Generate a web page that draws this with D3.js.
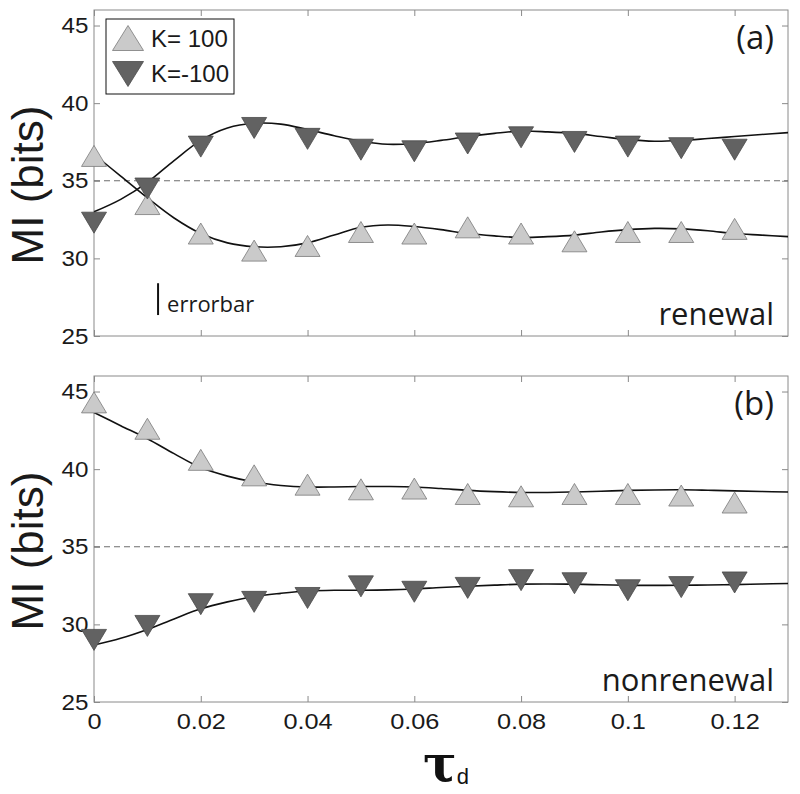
<!DOCTYPE html>
<html><head><meta charset="utf-8">
<script src="https://cdn.jsdelivr.net/npm/d3@7"></script>
<style>body{margin:0;background:#fff}</style>
</head><body>
<svg id="c" width="800" height="794"></svg>
<script>
// ---------- data ----------
const tauPoints = [0,0.01,0.02,0.03,0.04,0.05,0.06,0.07,0.08,0.09,0.10,0.11,0.12];
const renewalUp   = [36.6,33.5,31.6,30.5,30.8,31.7,31.6,32.0,31.6,31.1,31.7,31.7,31.9];
const renewalDown = [32.3,34.5,37.2,38.4,37.7,37.0,36.9,37.4,37.8,37.5,37.2,37.1,37.0];
const nonrenewalUp   = [44.3,42.6,40.6,39.6,39.0,38.7,38.75,38.4,38.25,38.4,38.4,38.3,37.85];
const nonrenewalDown = [29.0,29.9,31.3,31.45,31.7,32.45,32.1,32.35,32.85,32.65,32.2,32.4,32.7];

const fitTau = [0,0.005,0.01,0.015,0.02,0.025,0.03,0.035,0.04,0.045,0.05,0.055,0.06,0.065,0.07,0.075,0.08,0.085,0.09,0.095,0.10,0.105,0.11,0.115,0.12,0.125,0.13];
const renewalUpFit   = [36.7,35.3,33.9,32.6,31.6,31.0,30.75,30.75,31.0,31.5,32.0,32.15,32.05,31.85,31.6,31.45,31.35,31.4,31.5,31.7,31.85,31.93,31.9,31.78,31.6,31.5,31.4];
const renewalDownFit = [33.0,33.8,34.9,36.3,37.6,38.4,38.7,38.65,38.3,37.9,37.55,37.35,37.4,37.6,37.85,38.05,38.2,38.15,38.05,37.85,37.65,37.55,37.6,37.72,37.85,37.98,38.1];
const nonrenewalUpFit   = [43.65,42.8,41.96,41.0,40.1,39.55,39.17,38.95,38.85,38.85,38.88,38.88,38.85,38.75,38.63,38.55,38.5,38.5,38.53,38.58,38.63,38.66,38.67,38.64,38.6,38.56,38.53];
const nonrenewalDownFit = [28.67,29.1,29.67,30.35,31.0,31.45,31.8,32.0,32.15,32.2,32.2,32.22,32.28,32.38,32.46,32.53,32.59,32.6,32.59,32.55,32.52,32.51,32.52,32.54,32.56,32.6,32.63];

const xTickValues = [0,0.02,0.04,0.06,0.08,0.10,0.12];
const xTickLabels = ["0","0.02","0.04","0.06","0.08","0.1","0.12"];
const yTickValues = [25,30,35,40,45];
const yTickLabels = ["25","30","35","40","45"];
const legendLabels = ["K= 100","K=-100"];
const panelLetters = ["(a)","(b)"];
const panelNames = ["renewal","nonrenewal"];
const referenceMI = 35;
const errorbarTau = 0.012;
const errorbarRange = [26.35, 28.4];

// ---------- layout ----------
const left = 94, right = 788;
const panels = [
  {top:10, bottom:336, up:renewalUp, down:renewalDown, upFit:renewalUpFit, downFit:renewalDownFit, letter:panelLetters[0], name:panelNames[0], showX:false},
  {top:376, bottom:702, up:nonrenewalUp, down:nonrenewalDown, upFit:nonrenewalUpFit, downFit:nonrenewalDownFit, letter:panelLetters[1], name:panelNames[1], showX:true}
];
const lightFill = "#cacaca", lightStroke = "#7a7a7a";
const darkFill = "#626262", darkStroke = "#4a4a4a";
const axisColor = "#8a8a8a";
const tickFont = "'Liberation Sans', Arial, Helvetica, sans-serif";
const textFont = "'Open Sans', 'Liberation Sans', sans-serif";

const svg = d3.select("#c");
const x = d3.scaleLinear().domain([0,0.13]).range([left,right]);

function tri(w,h,up){
  const p = d3.path();
  if(up){ p.moveTo(0,-h/2); p.lineTo(w/2,h/2); p.lineTo(-w/2,h/2); }
  else { p.moveTo(0,h/2); p.lineTo(w/2,-h/2); p.lineTo(-w/2,-h/2); }
  p.closePath();
  return p.toString();
}

panels.forEach((P,pi)=>{
  const y = d3.scaleLinear().domain([25,46]).range([P.bottom,P.top]);
  const g = svg.append("g");

  g.append("rect").attr("x",left).attr("y",P.top).attr("width",right-left).attr("height",P.bottom-P.top)
    .attr("fill","none").attr("stroke",axisColor).attr("stroke-width",1);

  const ax = g.append("g").attr("transform",`translate(${left},0)`)
    .call(d3.axisLeft(y).tickValues(yTickValues).tickFormat((d,i)=>yTickLabels[i]).tickSize(-6).tickPadding(5));
  const ar = g.append("g").attr("transform",`translate(${right},0)`)
    .call(d3.axisRight(y).tickValues(yTickValues).tickFormat("").tickSize(-6));
  const at = g.append("g").attr("transform",`translate(0,${P.top})`)
    .call(d3.axisTop(x).tickValues(xTickValues).tickFormat("").tickSize(-6));
  const ab = g.append("g").attr("transform",`translate(0,${P.bottom})`)
    .call(d3.axisBottom(x).tickValues(xTickValues).tickFormat((d,i)=>P.showX?xTickLabels[i]:"").tickSize(-6).tickPadding(11));
  [ax,ar,at,ab].forEach(a=>{
    a.select(".domain").remove();
    a.selectAll(".tick line").attr("stroke",axisColor);
    a.selectAll("text").attr("fill","#1a1a1a").style("font-family",tickFont).style("font-size","22px");
  });
  ax.selectAll(".tick text").attr("transform","scale(1.1,1)");
  ab.selectAll(".tick text").attr("transform","scale(1.15,1)");

  g.append("line").attr("x1",x(0)).attr("x2",x(0.13)).attr("y1",y(referenceMI)).attr("y2",y(referenceMI))
    .attr("stroke","#6e6e6e").attr("stroke-width",1.1).attr("stroke-dasharray","6,4");

  const line = d3.line().x((d,i)=>x(fitTau[i])).y(d=>y(d)).curve(d3.curveCatmullRom.alpha(0.5));
  [P.upFit,P.downFit].forEach(arr=>{
    g.append("path").attr("d",line(arr)).attr("fill","none").attr("stroke","#111").attr("stroke-width",1.6);
  });

  g.selectAll(".up").data(P.up).enter().append("path")
    .attr("transform",(d,i)=>`translate(${x(tauPoints[i])},${y(d)})`)
    .attr("d",tri(25,21,true)).attr("fill",lightFill).attr("stroke",lightStroke).attr("stroke-width",0.8);
  g.selectAll(".down").data(P.down).enter().append("path")
    .attr("transform",(d,i)=>`translate(${x(tauPoints[i])},${y(d)})`)
    .attr("d",tri(25,21,false)).attr("fill",darkFill).attr("stroke",darkStroke).attr("stroke-width",0.8);

  g.append("text").attr("x",774).attr("y",P.top+39).attr("text-anchor","end")
    .style("font-family",textFont).style("font-size","33px").attr("fill","#1a1a1a").text(P.letter);
  g.append("text").attr("x",774).attr("y",P.bottom-11).attr("text-anchor","end")
    .style("font-family",textFont).style("font-size","31px").attr("fill","#1a1a1a").text(P.name);

  const cy = (P.top+P.bottom)/2 + 12;
  g.append("text").attr("transform",`translate(43,${cy}) rotate(-90)`).attr("text-anchor","middle")
    .style("font-family",tickFont).style("font-size","44px").attr("fill","#1a1a1a").text("MI (bits)");

  if(pi===0){
    g.append("line").attr("x1",x(errorbarTau)).attr("x2",x(errorbarTau))
      .attr("y1",y(errorbarRange[0])).attr("y2",y(errorbarRange[1])).attr("stroke","#111").attr("stroke-width",2);
    g.append("text").attr("x",x(errorbarTau)+9).attr("y",y(errorbarRange[0])-3)
      .style("font-family",textFont).style("font-size","22px").attr("fill","#1a1a1a").text("errorbar");

    const lg = g.append("g");
    lg.append("rect").attr("x",106).attr("y",19).attr("width",128).attr("height",75)
      .attr("fill","#fff").attr("stroke","#111").attr("stroke-width",1);
    lg.append("path").attr("transform","translate(128,38)").attr("d",tri(31,25,true))
      .attr("fill",lightFill).attr("stroke",lightStroke).attr("stroke-width",0.8);
    lg.append("path").attr("transform","translate(128,74)").attr("d",tri(31,25,false))
      .attr("fill",darkFill).attr("stroke",darkStroke).attr("stroke-width",0.8);
    legendLabels.forEach((t,i)=>{
      lg.append("text").attr("x",151).attr("y",47+i*35)
        .style("font-family",tickFont).style("font-size","24px").attr("fill","#1a1a1a").text(t);
    });
  }
});

const xl = svg.append("text").attr("x",423).attr("y",781).attr("fill","#111");
xl.append("tspan").style("font-family","'DejaVu Serif', serif").style("font-weight","bold").style("font-size","50px").text("τ");
xl.append("tspan").attr("dy",3).style("font-family",tickFont).style("font-size","22px").text("d");
</script>
</body></html>
